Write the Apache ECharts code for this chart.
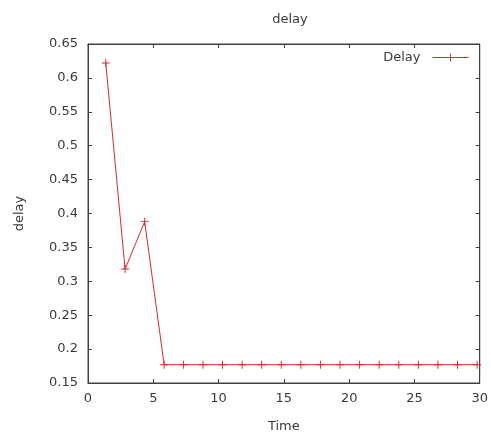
<!DOCTYPE html>
<html><head><meta charset="utf-8">
<script src="https://cdn.jsdelivr.net/npm/echarts@6/dist/echarts.min.js"></script>
<style>html,body{margin:0;padding:0;background:#fff}#c{width:491px;height:438px}</style>
</head><body><div id="c"></div>
<script>
const times = [1.36, 2.84, 4.34, 5.83, 7.32, 8.81, 10.3, 11.8, 13.3, 14.8, 16.3, 17.8, 19.3, 20.8, 22.3, 23.8, 25.3, 26.8, 28.3, 29.8];
const delay = [0.622, 0.318, 0.388, 0.177, 0.177, 0.177, 0.177, 0.177, 0.177, 0.177, 0.177, 0.177, 0.177, 0.177, 0.177, 0.177, 0.177, 0.177, 0.177, 0.177];
const seriesName = 'Delay';
const chart = echarts.init(document.getElementById('c'), null, {renderer:'canvas'});
const font = 'DejaVu Sans';
const axisCol = '#404040';
const txtCol = '#3a3a3a';
const plus = 'path://M0,4.4H10V5.6H0Z M4.4,0H5.6V10H4.4Z';
const lineCol = '#d42a2a';
const common = () => ({
  show:true,
  axisLine:{show:true,onZero:false,lineStyle:{color:axisCol,width:1}},
  axisTick:{show:true,inside:true,length:4,lineStyle:{color:axisCol}},
  splitLine:{show:false}
});
chart.setOption({
  animation:false,
  backgroundColor:'#fff',
  title:{text:'delay',left:285,top:8,textAlign:'center',textStyle:{fontFamily:font,fontSize:13,fontWeight:'normal',color:txtCol}},
  legend:{right:17,top:46,align:'right',itemWidth:36,itemHeight:10,
    lineStyle:{width:1},
    textStyle:{fontFamily:font,fontSize:13,color:txtCol,padding:[0,7,0,0]},data:[seriesName]},
  grid:{left:88,right:4,top:44,bottom:53,show:true,borderColor:axisCol,borderWidth:1,backgroundColor:'transparent'},
  xAxis:[
    Object.assign(common(),{type:'value',min:0,max:30,interval:5,position:'bottom',
      name:'Time',nameLocation:'middle',nameGap:37,
      nameTextStyle:{fontFamily:font,fontSize:13,color:txtCol},
      axisLabel:{fontFamily:font,fontSize:13,color:txtCol,margin:9}}),
    Object.assign(common(),{type:'value',min:0,max:30,interval:5,position:'top',axisLabel:{show:false}})
  ],
  yAxis:[
    Object.assign(common(),{type:'value',min:0.15,max:0.65,interval:0.05,position:'left',
      name:'delay',nameLocation:'middle',nameGap:62,
      nameTextStyle:{fontFamily:font,fontSize:13,color:txtCol},
      axisLabel:{fontFamily:font,fontSize:13,color:txtCol,margin:10,
        formatter:v=>String(Math.round(v*100)/100)}}),
    Object.assign(common(),{type:'value',min:0.15,max:0.65,interval:0.05,position:'right',axisLabel:{show:false}})
  ],
  series:[{
    name:seriesName,type:'line',xAxisIndex:0,yAxisIndex:0,
    data:times.map((t,i)=>[t,delay[i]]),
    symbol:plus,symbolSize:8,showAllSymbol:true,
    lineStyle:{color:lineCol,width:1},
    itemStyle:{color:lineCol},
    emphasis:{disabled:true}
  }]
});
</script></body></html>
